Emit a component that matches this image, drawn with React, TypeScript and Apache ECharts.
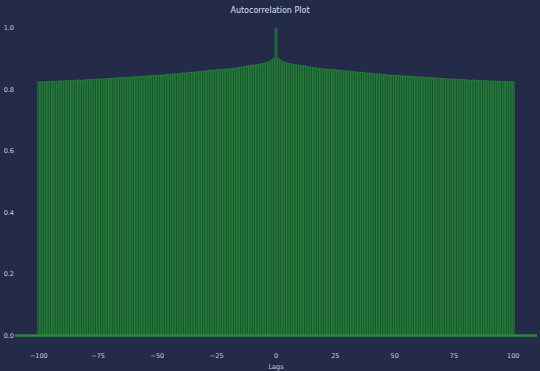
import React, { useEffect, useRef } from "react";
import * as echarts from "echarts";

// Autocorrelation values for lags 0..100 (symmetric for negative lags)
const acfPositive: number[] = [
  1.0, 0.903, 0.897, 0.893, 0.89, 0.888, 0.886, 0.885, 0.883, 0.882,
  0.881, 0.88, 0.879, 0.877, 0.876, 0.875, 0.873, 0.872, 0.871, 0.87,
  0.869, 0.869, 0.868, 0.867, 0.867, 0.866, 0.865, 0.865, 0.864, 0.863,
  0.862, 0.862, 0.861, 0.86, 0.859, 0.859, 0.858, 0.857, 0.856, 0.856,
  0.855, 0.854, 0.853, 0.853, 0.852, 0.851, 0.851, 0.85, 0.849, 0.849,
  0.848, 0.848, 0.847, 0.847, 0.846, 0.846, 0.845, 0.845, 0.844, 0.844,
  0.843, 0.843, 0.842, 0.842, 0.841, 0.841, 0.84, 0.84, 0.839, 0.839,
  0.838, 0.838, 0.837, 0.837, 0.836, 0.836, 0.835, 0.835, 0.835, 0.834,
  0.834, 0.833, 0.833, 0.833, 0.832, 0.832, 0.831, 0.831, 0.831, 0.83,
  0.83, 0.83, 0.829, 0.829, 0.829, 0.828, 0.828, 0.828, 0.827, 0.827,
  0.827,
];

const xTicks: number[] = [-100, -75, -50, -25, 0, 25, 50, 75, 100];
const yTicks: number[] = [0, 0.2, 0.4, 0.6, 0.8, 1.0];
const titleText = "Autocorrelation Plot";
const xName = "Lags";

export default function App() {
  const ref = useRef<HTMLDivElement>(null);
  useEffect(() => {
    if (!ref.current) return;
    const chart = echarts.init(ref.current, undefined, { renderer: "svg" });
    const data: [number, number][] = [];
    for (let lag = -100; lag <= 100; lag++) {
      data.push([lag, acfPositive[Math.abs(lag)]]);
    }
    const labelColor = "#c9cedb";
    chart.setOption({
      animation: false,
      backgroundColor: "#232b48",
      title: {
        text: titleText,
        left: "center",
        top: 1,
        textStyle: { color: "#dde1ec", fontSize: 8, fontWeight: "normal", fontFamily: "DejaVu Sans" },
      },
      grid: { left: 15, right: 3, top: 13, bottom: 20, containLabel: false, outerBoundsMode: "none" },
      xAxis: {
        type: "value",
        min: -110,
        max: 110,
        name: xName,
        nameLocation: "middle",
        nameGap: 8,
        nameTextStyle: { color: labelColor, fontSize: 6.5, fontFamily: "DejaVu Sans" },
        axisLine: { show: false },
        axisTick: { show: false },
        splitLine: { show: false },
        axisLabel: {
          customValues: xTicks,
          color: labelColor,
          fontSize: 6.5,
          fontFamily: "DejaVu Sans",
          margin: 1,
          formatter: (v: number) => (v < 0 ? "\u2212" + Math.abs(v) : String(v)),
        },
      },
      yAxis: {
        type: "value",
        min: -0.05,
        max: 1.05,
        axisLine: { show: false },
        axisTick: { show: false },
        splitLine: { show: false },
        axisLabel: {
          customValues: yTicks,
          color: labelColor,
          fontSize: 6.5,
          fontFamily: "DejaVu Sans",
          margin: 1,
          formatter: (v: number) => v.toFixed(1),
        },
      },
      series: [
        {
          type: "bar",
          data,
          barWidth: 2.4,
          itemStyle: { color: "#17502a", borderColor: "#2e9a42", borderWidth: 0.6 },
          markLine: {
            silent: true,
            symbol: "none",
            label: { show: false },
            lineStyle: { color: "#2a8a38", width: 2.5, type: "solid" },
            data: [{ yAxis: 0 }],
          },
        },
      ],
    });
    return () => chart.dispose();
  }, []);
  return <div ref={ref} style={{ position: "fixed", left: 0, top: 0, width: 540, height: 371 }} />;
}
